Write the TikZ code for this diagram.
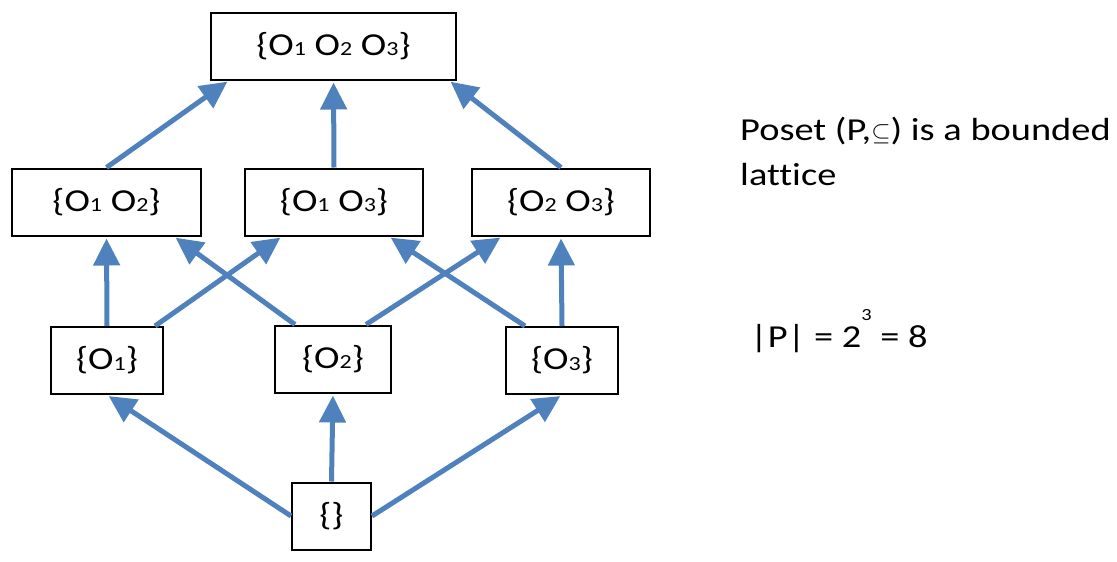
\documentclass[tikz,border=0pt]{standalone}
\usepackage{fontspec}
\setmainfont{Carlito}[Ligatures=NoCommon,Numbers=Lining,FakeStretch=1.2]
\usepackage{amssymb}
\usetikzlibrary{arrows.meta}
\definecolor{latblue}{RGB}{79,129,189}
\newcommand{\osub}[1]{\raisebox{-0.5pt}{\fontsize{20}{20}\selectfont #1}}
\tikzset{
	setstyle/.style={rectangle,draw=black,line width=2pt,fill=white,inner sep=0pt,minimum height=67pt},
	linkstyle/.style={draw=latblue,line width=5pt,-{Triangle[length=27pt,width=26pt]},shorten >=2pt},
	textstyle/.style={rectangle,align=left,inner sep=0pt,font=\fontsize{32}{45}\selectfont}
}

\begin{document}
\begin{tikzpicture}[x=1pt,y=-1pt]
	\fontsize{32}{40}\selectfont
	\useasboundingbox (0,0) rectangle (1117,562);
	\node[setstyle,minimum width=245] (o123) at (333.5,46) {\{O\osub{1} O\osub{2} O\osub{3}\}};
	\node[setstyle,minimum width=189] (o12) at (106.5,202) {\{O\osub{1} O\osub{2}\}};
	\node[setstyle,minimum width=178] (o13) at (334,202) {\{O\osub{1} O\osub{3}\}};
	\node[setstyle,minimum width=178] (o23) at (561,202) {\{O\osub{2} O\osub{3}\}};
	\node[setstyle,minimum width=112] (o1) at (107,360.5) {\{O\osub{1}\}};
	\node[setstyle,minimum width=116] (o2) at (333,359) {\{O\osub{2}\}};
	\node[setstyle,minimum width=112] (o3) at (562,360.5) {\{O\osub{3}\}};
	\node[setstyle,minimum width=79] (empty) at (331.5,516) {\{\}};
	\node[textstyle,anchor=base west] (poset) at (740,185) {Poset (P,$\subseteq$) is a bounded\\lattice};
	\node[textstyle,anchor=base west] (card) at (750,347) {|P| = 2\raisebox{27pt}{\fontsize{17}{17}\selectfont 3} = 8};
	\draw[linkstyle] (o12.north)--([xshift=19]o123.south west);
	\draw[linkstyle] (o13.north)--(o123.south);
	\draw[linkstyle] (o23.north)--([xshift=-8]o123.south east);
	\draw[linkstyle] (o1.north)--(o12.south);
	\draw[linkstyle] ([xshift=-9]o1.north east)--([xshift=38]o13.south west);
	\draw[linkstyle] ([xshift=21]o2.north west)--([xshift=-28]o12.south east);
	\draw[linkstyle] ([xshift=-26]o2.north east)--([xshift=31]o23.south west);
	\draw[linkstyle] ([xshift=20]o3.north west)--([xshift=-35]o13.south east);
	\draw[linkstyle] (o3.north)--(o23.south);
	\draw[linkstyle] (empty.west)--(o1.south);
	\draw[linkstyle] (empty.north)--(o2.south);
	\draw[linkstyle] (empty.east)--(o3.south);
\end{tikzpicture}
\end{document}
